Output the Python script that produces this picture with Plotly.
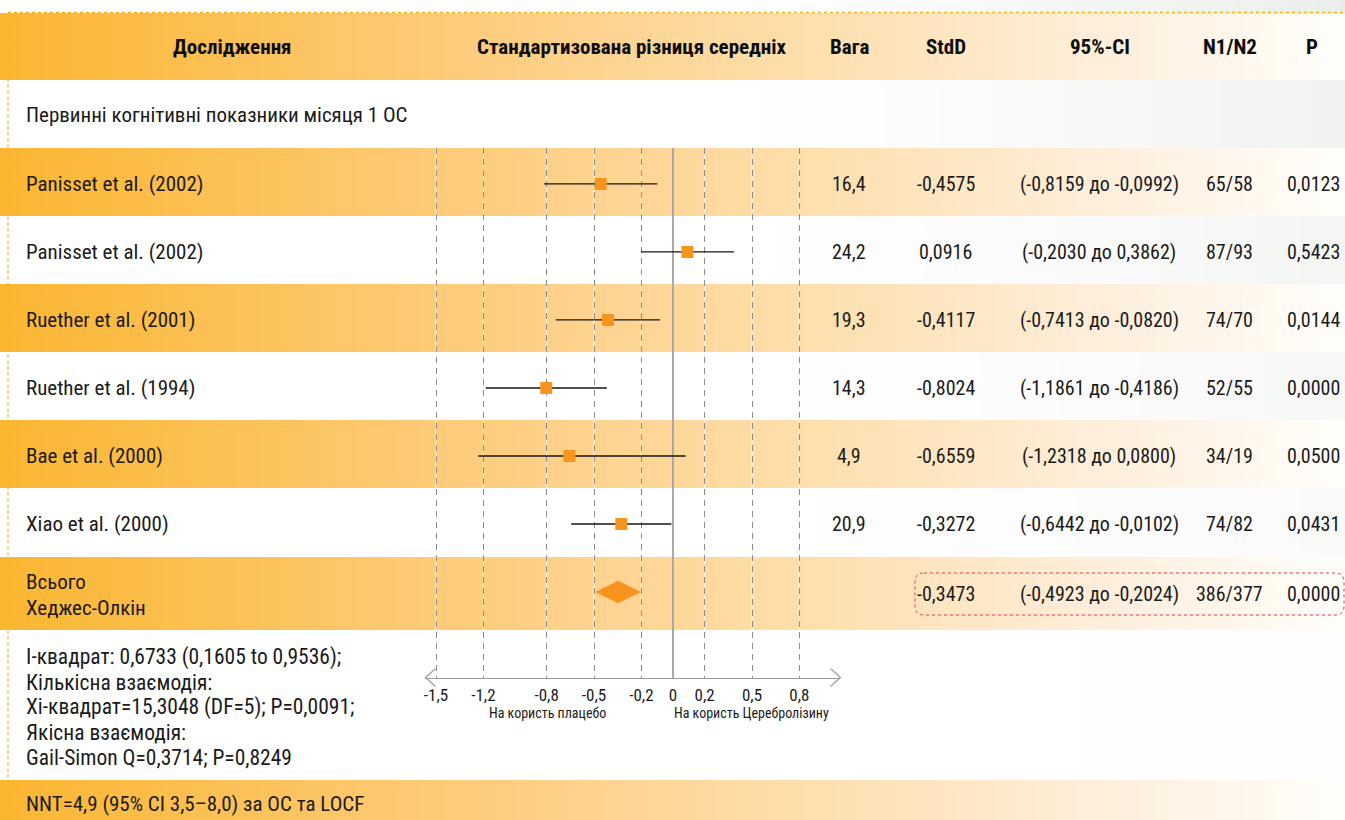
import numpy as np
import plotly.graph_objects as go

W, H = 1345, 820

# ---------------- data ----------------
studies = ["Panisset et al. (2002)", "Panisset et al. (2002)", "Ruether et al. (2001)",
           "Ruether et al. (1994)", "Bae et al. (2000)", "Xiao et al. (2000)"]
weights = [16.4, 24.2, 19.3, 14.3, 4.9, 20.9]
std_d = [-0.4575, 0.0916, -0.4117, -0.8024, -0.6559, -0.3272]
ci_low = [-0.8159, -0.2030, -0.7413, -1.1861, -1.2318, -0.6442]
ci_high = [-0.0992, 0.3862, -0.0820, -0.4186, 0.0800, -0.0102]
n1 = [65, 87, 74, 52, 34, 74]
n2 = [58, 93, 70, 55, 19, 82]
p_values = [0.0123, 0.5423, 0.0144, 0.0000, 0.0500, 0.0431]

total_labels = ["Всього", "Хеджес-Олкін"]
total_std_d = -0.3473
total_ci_low = -0.4923
total_ci_high = -0.2024
total_n1, total_n2 = 386, 377
total_p = 0.0000

x_tick_values = [-1.5, -1.2, -0.8, -0.5, -0.2, 0, 0.2, 0.5, 0.8]
x_tick_labels = ["-1,5", "-1,2", "-0,8", "-0,5", "-0,2", "0", "0,2", "0,5", "0,8"]

headers = ["Дослідження", "Стандартизована різниця середніх", "Вага", "StdD",
           "95%-CI", "N1/N2", "P"]
subtitle = "Первинні когнітивні показники місяця 1 ОС"
heterogeneity_lines = [
    "I-квадрат: 0,6733 (0,1605 to 0,9536);",
    "Кількісна взаємодія:",
    "Хі-квадрат=15,3048 (DF=5); P=0,0091;",
    "Якісна взаємодія:",
    "Gail-Simon Q=0,3714; P=0,8249",
]
nnt_text = "NNT=4,9 (95% CI 3,5–8,0) за OC та LOCF"
axis_notes = ["На користь плацебо", "На користь Церебролізину"]

# ---------------- styling ----------------
FONT = "Liberation Sans Narrow, Roboto Condensed, DejaVu Sans Condensed, Arial Narrow, sans-serif"
TEXT = "#1b1b1b"
ORANGE = "#F7941D"
GRID = "#8e8e8e"
AXIS = "#9c9c9c"


def px(x):
    return x / W


def py(y):
    return 1 - y / H


def fmt(v, d):
    return f"{v:.{d}f}".replace(".", ",")


fig = go.Figure()

# ---- page background: orange gradient bands and light textured rows ----
x_edges = np.arange(0, W + 5, 5)
xc = (x_edges[:-1] + x_edges[1:]) / 2
y_edges = [0, 13, 80, 148, 216, 284, 352, 420, 488, 557, 630, 780, 820]
row_kind = [0.9, "band", 0.65, "band", 0.5, "band", 0.38, "band", 0.26, "band", 0.05, "band"]
fade = np.clip((xc - 720) / (W - 720), 0, 1) ** 1.2
z_bg = []
for kind in row_kind:
    if kind == "band":
        z_bg.append(0.5 * xc / W)
    else:
        z_bg.append(0.5 + 0.5 * kind * fade)
bg_scale = [
    [0.0, "#FBB631"], [0.167, "#FDCB79"], [0.316, "#FEE1B3"], [0.41, "#FEEEDB"],
    [0.4999, "#FFFEFB"], [0.5, "#FFFFFF"], [1.0, "#E8ECE8"],
]
fig.add_trace(go.Heatmap(
    x=x_edges, y=y_edges, z=np.array(z_bg), zmin=0, zmax=1, colorscale=bg_scale,
    showscale=False, hoverinfo="skip", xaxis="x", yaxis="y",
))

# ---- forest plot ----
rows = list(range(len(studies)))
total_row = len(studies)

ci_x, ci_y = [], []
for i, (lo, hi) in enumerate(zip(ci_low, ci_high)):
    ci_x += [lo, hi, None]
    ci_y += [i, i, None]
fig.add_trace(go.Scatter(
    x=ci_x, y=ci_y, mode="lines", line=dict(color="#161616", width=1.3),
    hoverinfo="skip", xaxis="x2", yaxis="y2", showlegend=False,
))
fig.add_trace(go.Scatter(
    x=std_d, y=rows, mode="markers",
    marker=dict(symbol="square", size=12, color=ORANGE, line=dict(width=0)),
    xaxis="x2", yaxis="y2", showlegend=False,
))
dh = 0.165
fig.add_trace(go.Scatter(
    x=[total_ci_low, total_std_d, total_ci_high, total_std_d, total_ci_low],
    y=[total_row, total_row - dh, total_row, total_row + dh, total_row],
    mode="lines", fill="toself", fillcolor=ORANGE, line=dict(width=0, color=ORANGE),
    xaxis="x2", yaxis="y2", showlegend=False, hoverinfo="skip",
))

shapes = []
# light underlay for the dashed reference lines
for v in x_tick_values:
    if v != 0:
        shapes.append(dict(type="line", xref="x2", yref="y2", x0=v, x1=v,
                           y0=-0.529, y1=7.265, layer="below",
                           line=dict(color="rgba(255,255,255,0.8)", width=1)))

# arrow heads at both ends of the axis
for tip, d in ((425.5, 1), (840.5, -1)):
    shapes.append(dict(
        type="path", xref="paper", yref="paper", layer="above",
        path=f"M {px(tip + 10 * d)} {py(668.5)} L {px(tip)} {py(677.5)} L {px(tip + 10 * d)} {py(686.5)}",
        line=dict(color=AXIS, width=1.2)))

# dotted frame lines
shapes.append(dict(type="line", xref="paper", yref="paper", layer="above",
                   x0=px(8), x1=1, y0=py(12.5), y1=py(12.5),
                   line=dict(color="#F4B31C", width=1.3, dash="dot")))
shapes.append(dict(type="line", xref="paper", yref="paper", layer="above",
                   x0=px(8), x1=px(8), y0=py(12.5), y1=0,
                   line=dict(color="#F4B31C", width=1.3, dash="dot")))

# dotted rounded outline around the pooled result
x0, x1, y0, y1, r = 915, 1344, 573, 615, 9
p = (f"M {px(x0 + r)} {py(y0)} L {px(x1 - r)} {py(y0)} Q {px(x1)} {py(y0)} {px(x1)} {py(y0 + r)} "
     f"L {px(x1)} {py(y1 - r)} Q {px(x1)} {py(y1)} {px(x1 - r)} {py(y1)} "
     f"L {px(x0 + r)} {py(y1)} Q {px(x0)} {py(y1)} {px(x0)} {py(y1 - r)} "
     f"L {px(x0)} {py(y0 + r)} Q {px(x0)} {py(y0)} {px(x0 + r)} {py(y0)} Z")
shapes.append(dict(type="path", xref="paper", yref="paper", layer="above", path=p,
                   line=dict(color="#E8383D", width=1, dash="dot")))

# ---------------- text ----------------
annotations = []


def label(text, x, y, size=21, bold=False, anchor="left", color=TEXT):
    annotations.append(dict(
        text=f"<b>{text}</b>" if bold else text, x=px(x), y=py(y),
        xref="paper", yref="paper", xanchor=anchor, yanchor="middle",
        showarrow=False, font=dict(family=FONT, size=size, color=color)))


header_x = [232, 632, 849, 946, 1100, 1230, 1312]
for h, x in zip(headers, header_x):
    label(h, x, 47, size=21, bold=True, anchor="center", color="#0d0d0d")

label(subtitle, 24, 115)

NUM = 20
col_x = dict(w=849, d=946, ci=1099, n=1229, p=1313)
row_y0, row_step = 184, 68
for i, name in enumerate(studies):
    y = row_y0 + row_step * i
    label(name, 24, y)
    label(fmt(weights[i], 1), col_x["w"], y, size=NUM, anchor="center")
    label(fmt(std_d[i], 4), col_x["d"], y, size=NUM, anchor="center")
    label(f"({fmt(ci_low[i], 4)} до {fmt(ci_high[i], 4)})", col_x["ci"], y, size=NUM, anchor="center")
    label(f"{n1[i]}/{n2[i]}", col_x["n"], y, size=NUM, anchor="center")
    label(fmt(p_values[i], 4), col_x["p"], y, size=NUM, anchor="center")

label(total_labels[0], 24, 582)
label(total_labels[1], 24, 608)
ty = 594
label(fmt(total_std_d, 4), col_x["d"], ty, size=NUM, anchor="center")
label(f"({fmt(total_ci_low, 4)} до {fmt(total_ci_high, 4)})", col_x["ci"], ty, size=NUM, anchor="center")
label(f"{total_n1}/{total_n2}", col_x["n"], ty, size=NUM, anchor="center")
label(fmt(total_p, 4), col_x["p"], ty, size=NUM, anchor="center")

for k, line in enumerate(heterogeneity_lines):
    label(line, 24, 657 + 25 * k, size=21.5)

label(nnt_text, 24, 804)

label(axis_notes[0], 547, 713, size=14, anchor="center")
label(axis_notes[1], 751, 713, size=14, anchor="center")

x_scale = 158.0  # pixels per unit of standardised difference
zero_px = 673
fig.update_layout(
    width=W, height=H, autosize=False,
    margin=dict(l=0, r=0, t=0, b=0, pad=0),
    paper_bgcolor="white", plot_bgcolor="rgba(0,0,0,0)",
    showlegend=False,
    xaxis=dict(domain=[0, 1], range=[0, W], visible=False, fixedrange=True),
    yaxis=dict(domain=[0, 1], range=[H, 0], visible=False, fixedrange=True),
    xaxis2=dict(
        domain=[px(425), px(840)],
        range=[(425 - zero_px) / x_scale, (840 - zero_px) / x_scale],
        anchor="y2", tickmode="array", tickvals=x_tick_values, ticktext=x_tick_labels,
        ticks="", showline=True, linecolor=AXIS, linewidth=1.2,
        showgrid=True, gridcolor=GRID, gridwidth=1, griddash="6px,5px",
        zeroline=True, zerolinecolor="#a9a9a9", zerolinewidth=2,
        tickfont=dict(family=FONT, size=17, color=TEXT), ticklabelstandoff=1,
        fixedrange=True,
    ),
    yaxis2=dict(
        domain=[py(678), py(148)], range=[7.265, -0.529], anchor="x2",
        visible=False, showgrid=False, zeroline=False, fixedrange=True,
    ),
    shapes=shapes, annotations=annotations,
)

fig.write_html("out.html")
